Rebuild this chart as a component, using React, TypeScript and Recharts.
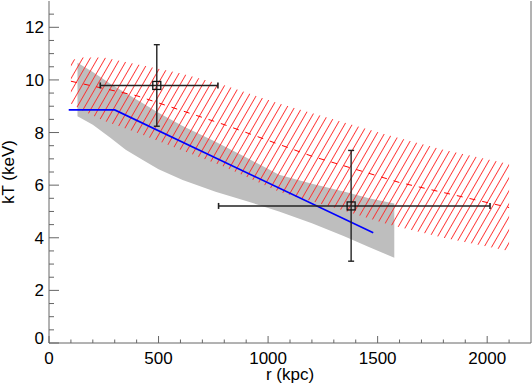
import React from 'react';
import { ComposedChart, Area, Line, Scatter, ErrorBar, XAxis, YAxis } from 'recharts';

// hatched band (red) : lower / upper bounds
const hatchR = [100, 150, 250, 400, 600, 800, 1050, 1300, 1550, 1800, 2100];
const hatchHi = [10.75, 10.85, 10.85, 10.6, 10.25, 9.8, 9.1, 8.5, 7.9, 7.35, 6.8];
const hatchLo = [9.1, 8.85, 8.45, 8.0, 7.35, 6.7, 5.75, 5.15, 4.5, 4.0, 3.5];

// dashed best fit inside the hatched band
const fitR = [100, 400, 800, 1200, 1600, 2100];
const fitT = [9.95, 9.4, 8.3, 7.1, 6.1, 5.15];

// grey band
const grayR = [130, 200, 280, 350, 430, 500, 610, 760, 900, 1050, 1200, 1350, 1460, 1576];
const grayHi = [10.65, 10.3, 9.85, 9.5, 9.1, 8.75, 8.25, 7.65, 7.05, 6.4, 6.05, 5.75, 5.5, 5.3];
const grayLo = [8.62, 8.3, 7.8, 7.35, 6.95, 6.6, 6.2, 5.75, 5.4, 5.0, 4.55, 4.05, 3.65, 3.24];

// blue model line
const modelR = [90, 300, 1480];
const modelT = [8.86, 8.86, 4.19];

// measured points with errors
const obsR = [492, 1379];
const obsT = [9.79, 5.21];
const obsRLo = [234, 774];
const obsRHi = [771, 2013];
const obsTLo = [8.24, 3.11];
const obsTHi = [11.34, 7.32];

const xMajor = [0, 500, 1000, 1500, 2000];
const yMajor = [0, 2, 4, 6, 8, 10, 12];
const xTicks = Array.from({ length: 22 }, (_, i) => i * 100);
const yTicks = Array.from({ length: 26 }, (_, i) => i * 0.5);

const hatchData = hatchR.map((r, i) => ({ r, band: [hatchLo[i], hatchHi[i]] }));
const grayData = grayR.map((r, i) => ({ r, band: [grayLo[i], grayHi[i]] }));
const fitData = fitR.map((r, i) => ({ r, t: fitT[i] }));
const modelData = modelR.map((r, i) => ({ r, t: modelT[i] }));
const obsData = obsR.map((r, i) => ({
  r,
  t: obsT[i],
  rErr: [r - obsRLo[i], obsRHi[i] - r],
  tErr: [obsT[i] - obsTLo[i], obsTHi[i] - obsT[i]],
}));

const FONT = '"Liberation Sans", Arial, Helvetica, sans-serif';
const AXIS = '#666';

const BottomTick = (props: any) => {
  const { x, y, payload } = props;
  const v = payload.value;
  const major = xMajor.includes(v);
  return (
    <g>
      <line x1={x} x2={x} y1={y} y2={y - (major ? 7 : 3.5)} stroke={AXIS} />
      {major && (
        <text x={x} y={y + 21} textAnchor="middle" fontSize={17} fontFamily={FONT} fill="#000">
          {v}
        </text>
      )}
    </g>
  );
};

const TopTick = (props: any) => {
  const { x, y, payload } = props;
  const major = xMajor.includes(payload.value);
  return <line x1={x} x2={x} y1={y} y2={y + (major ? 7 : 3.5)} stroke={AXIS} />;
};

const LeftTick = (props: any) => {
  const { x, y, payload } = props;
  const v = payload.value;
  const major = yMajor.includes(v);
  return (
    <g>
      <line x1={x} x2={x + (major ? 10 : 5)} y1={y} y2={y} stroke={AXIS} />
      {major && (
        <text x={x - 5} y={v === 0 ? y + 0.5 : y + 6} textAnchor="end" fontSize={17} fontFamily={FONT} fill="#000">
          {v}
        </text>
      )}
    </g>
  );
};

const RightTick = (props: any) => {
  const { x, y, payload } = props;
  const major = yMajor.includes(payload.value);
  return <line x1={x} x2={x - (major ? 10 : 5)} y1={y} y2={y} stroke={AXIS} />;
};

const Square = (props: any) => {
  const { cx, cy } = props;
  return <rect x={cx - 4} y={cy - 4} width={8} height={8} fill="none" stroke="#111" strokeWidth={1.3} />;
};

export default function App() {
  return (
    <div style={{ position: 'absolute', left: 0, top: 0, width: 532, height: 387, background: '#fff' }}>
      <ComposedChart width={532} height={387} margin={{ top: 1, right: 0, bottom: 0, left: 0 }}>
        <defs>
          <pattern id="hatch" patternUnits="userSpaceOnUse" width={6.5} height={8} patternTransform="rotate(30)">
            <line x1={3.25} y1={0} x2={3.25} y2={8} stroke="#ff2a2a" strokeWidth={0.9} />
          </pattern>
        </defs>
        <XAxis
          dataKey="r"
          type="number"
          domain={[0, 2200]}
          ticks={xTicks}
          interval={0}
          height={44}
          tickSize={0}
          tickMargin={0}
          tickLine={false}
          tick={<BottomTick />}
          axisLine={{ stroke: AXIS }}
          label={{ value: 'r (kpc)', position: 'insideBottom', offset: 7, fontSize: 17, fontFamily: FONT, fill: '#000' }}
        />
        <XAxis
          xAxisId="top"
          orientation="top"
          type="number"
          domain={[0, 2200]}
          ticks={xTicks}
          interval={0}
          height={0}
          tickSize={0}
          tickMargin={0}
          tickLine={false}
          tick={<TopTick />}
          axisLine={{ stroke: AXIS }}
        />
        <YAxis
          type="number"
          domain={[0, 13]}
          ticks={yTicks}
          interval={0}
          width={49}
          tickSize={0}
          tickMargin={0}
          tickLine={false}
          tick={<LeftTick />}
          axisLine={{ stroke: AXIS }}
          label={{
            content: () => (
              <text transform="translate(14,172) rotate(-90)" textAnchor="middle" fontSize={17} fontFamily={FONT} fill="#000">
                kT (keV)
              </text>
            ),
          }}
        />
        <YAxis
          yAxisId="right"
          orientation="right"
          type="number"
          domain={[0, 13]}
          ticks={yTicks}
          interval={0}
          width={1}
          tickSize={0}
          tickMargin={0}
          tickLine={false}
          tick={<RightTick />}
          axisLine={{ stroke: AXIS }}
        />
        <Area data={grayData} dataKey="band" type="linear" fill="#bebebe" fillOpacity={1} stroke="none" isAnimationActive={false} />
        <Area data={hatchData} dataKey="band" type="linear" fill="url(#hatch)" fillOpacity={1} stroke="none" isAnimationActive={false} />
        <Line data={fitData} dataKey="t" type="linear" stroke="#ff0000" strokeWidth={1} strokeDasharray="6 7" dot={false} isAnimationActive={false} />
        <Line data={modelData} dataKey="t" type="linear" stroke="#0000ff" strokeWidth={1.6} dot={false} isAnimationActive={false} />
        <Scatter data={obsData} dataKey="t" shape={<Square />} isAnimationActive={false}>
          <ErrorBar dataKey="rErr" direction="x" width={3} stroke="#222" strokeWidth={1.6} />
          <ErrorBar dataKey="tErr" direction="y" width={3} stroke="#222" strokeWidth={1.4} />
        </Scatter>
      </ComposedChart>
    </div>
  );
}
